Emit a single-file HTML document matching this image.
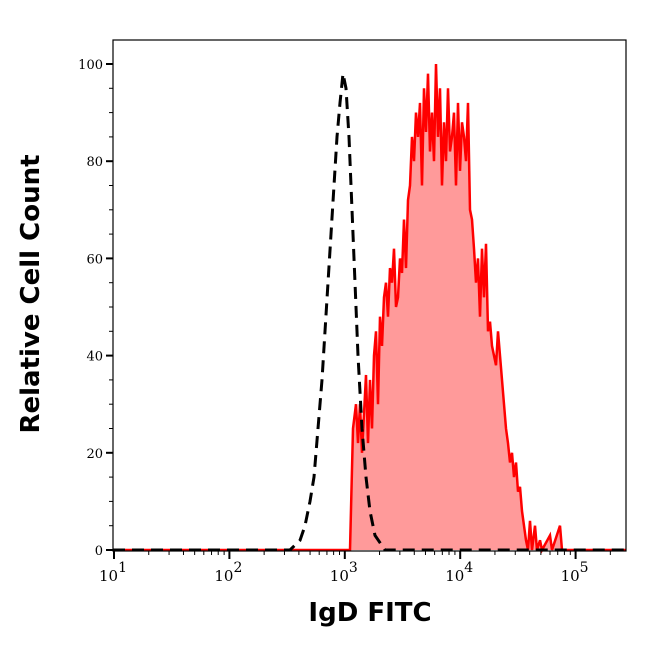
<!DOCTYPE html><html><head><style>body{margin:0;background:#fff}</style></head><body>
<svg width="646" height="641" xmlns="http://www.w3.org/2000/svg">
<rect width="646" height="641" fill="#fff"/>
<g id="g"></g>
<text x="370" y="621" font-family="DejaVu Sans, sans-serif" font-weight="bold" font-size="26" text-anchor="middle">IgD FITC</text>
<text transform="translate(39,294) rotate(-90)" font-family="DejaVu Sans, sans-serif" font-weight="bold" font-size="26" text-anchor="middle">Relative Cell Count</text>
</svg>
<script>
const g=document.getElementById('g');let h='';
const Y=v=>550-v*4.86;
const red=[[113,0],[350,0],[353,25],[356,30],[358,22],[360,30],[362,20],[364,28],[366,36],[368,22],[370,35],[372,25],[374,40],[376,45],[378,30],[380,48],[382,42],[384,52],[386,55],[388,48],[390,58],[392,55],[394,62],[396,50],[398,52],[400,60],[402,57],[404,68],[406,58],[408,72],[410,75],[412,85],[414,80],[416,90],[418,85],[420,92],[422,75],[424,95],[426,86],[428,98],[430,82],[432,90],[434,80],[436,100],[438,85],[440,95],[442,75],[444,88],[446,80],[448,95],[450,82],[452,85],[454,90],[456,75],[458,92],[460,78],[462,88],[464,85],[466,80],[468,92],[470,70],[472,68],[474,62],[476,55],[478,60],[480,48],[482,62],[484,52],[486,63],[488,45],[490,47],[492,42],[494,40],[496,38],[498,45],[500,40],[502,35],[504,30],[506,25],[508,22],[510,18],[512,20],[514,15],[516,18],[518,12],[520,13],[522,8],[524,5],[526,2],[528,0],[530,6],[532,0],[535,5],[537,0],[540,2],[542,0],[550,3],[552,0],[560,5],[562,0],[626,0]];
const blk=[[113,0],[290,0],[300,2],[305,5],[310,10],[314,15],[318,25],[322,35],[325,45],[328,55],[331,65],[334,75],[337,85],[340,92],[343,98],[346,95],[349,85],[352,70],[355,55],[358,40],[362,25],[366,15],[370,8],[375,3],[385,0],[626,0]];
const pts=a=>a.map(p=>p[0]+','+Y(p[1]).toFixed(1)).join(' ');
h+=`<polygon points="${pts(red)}" fill="#ff9a9a"/>`;
h+=`<polyline points="${pts(red)}" fill="none" stroke="#f00" stroke-width="2.5"/>`;
h+=`<polyline points="${pts(blk)}" fill="none" stroke="#000" stroke-width="3" stroke-dasharray="12,7"/>`;
h+=`<rect x="113" y="40" width="513" height="511" fill="none" stroke="#000" stroke-width="1.2"/>`;
for(let v=0;v<=100;v+=5){const y=Y(v);const maj=v%20==0;h+=`<line x1="${maj?106:109}" x2="113" y1="${y}" y2="${y}" stroke="#000" stroke-width="${maj?2:1}"/>`;if(maj)h+=`<text x="103" y="${y+5}" font-family="DejaVu Serif,serif" font-size="13" text-anchor="end">${v}</text>`;}
const x0=114,dec=115.4;
for(let d=1;d<=5;d++){for(let k=1;k<10;k++){const x=x0+(d-1+Math.log10(k))*dec;if(x>626)continue;h+=`<line x1="${x}" x2="${x}" y1="551" y2="${k==1?559:555}" stroke="#000" stroke-width="${k==1?2:1}"/>`;if(k==1)h+=`<text x="${x-1}" y="581" font-family="DejaVu Serif,serif" font-size="15" text-anchor="middle">10<tspan dy="-9" font-size="14">${d}</tspan></text>`;}}
g.innerHTML=h;
</script>
</body></html>
